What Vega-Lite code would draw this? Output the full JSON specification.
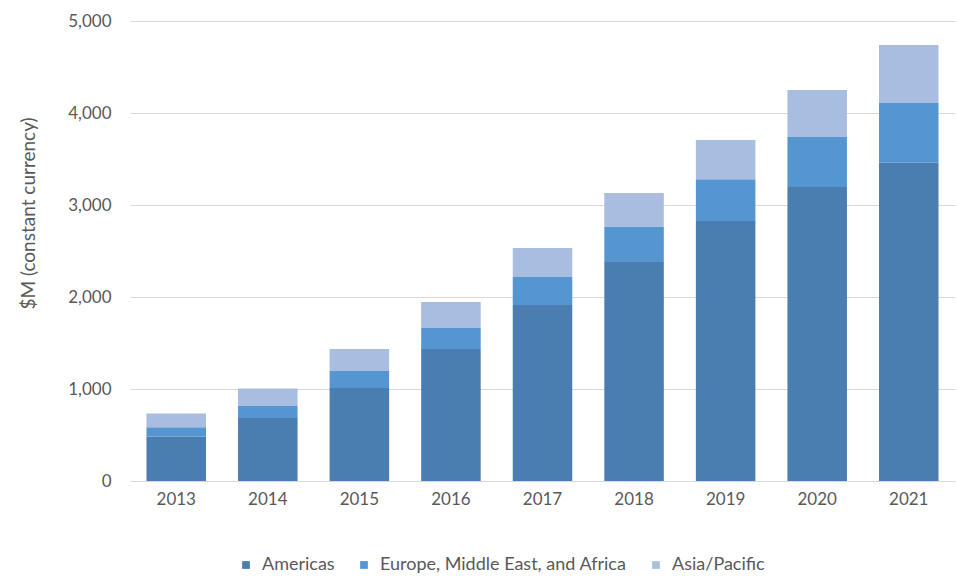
{
  "$schema": "https://vega.github.io/schema/vega-lite/v6.json",
  "autosize": "none",
  "width": 825,
  "height": 460,
  "padding": {"left": 130, "top": 21, "right": 3, "bottom": 96},
  "background": "white",
  "data": {"values": [
    {"year": "2013", "region": "Americas", "k": 1, "value": 485},
    {"year": "2013", "region": "Europe, Middle East, and Africa", "k": 2, "value": 100},
    {"year": "2013", "region": "Asia/Pacific", "k": 3, "value": 150},
    {"year": "2014", "region": "Americas", "k": 1, "value": 685},
    {"year": "2014", "region": "Europe, Middle East, and Africa", "k": 2, "value": 130},
    {"year": "2014", "region": "Asia/Pacific", "k": 3, "value": 190},
    {"year": "2015", "region": "Americas", "k": 1, "value": 1010},
    {"year": "2015", "region": "Europe, Middle East, and Africa", "k": 2, "value": 185},
    {"year": "2015", "region": "Asia/Pacific", "k": 3, "value": 240},
    {"year": "2016", "region": "Americas", "k": 1, "value": 1435},
    {"year": "2016", "region": "Europe, Middle East, and Africa", "k": 2, "value": 228},
    {"year": "2016", "region": "Asia/Pacific", "k": 3, "value": 283},
    {"year": "2017", "region": "Americas", "k": 1, "value": 1913},
    {"year": "2017", "region": "Europe, Middle East, and Africa", "k": 2, "value": 304},
    {"year": "2017", "region": "Asia/Pacific", "k": 3, "value": 316},
    {"year": "2018", "region": "Americas", "k": 1, "value": 2380},
    {"year": "2018", "region": "Europe, Middle East, and Africa", "k": 2, "value": 385},
    {"year": "2018", "region": "Asia/Pacific", "k": 3, "value": 365},
    {"year": "2019", "region": "Americas", "k": 1, "value": 2826},
    {"year": "2019", "region": "Europe, Middle East, and Africa", "k": 2, "value": 455},
    {"year": "2019", "region": "Asia/Pacific", "k": 3, "value": 425},
    {"year": "2020", "region": "Americas", "k": 1, "value": 3196},
    {"year": "2020", "region": "Europe, Middle East, and Africa", "k": 2, "value": 543},
    {"year": "2020", "region": "Asia/Pacific", "k": 3, "value": 511},
    {"year": "2021", "region": "Americas", "k": 1, "value": 3460},
    {"year": "2021", "region": "Europe, Middle East, and Africa", "k": 2, "value": 649},
    {"year": "2021", "region": "Asia/Pacific", "k": 3, "value": 630}
  ]},
  "mark": {"type": "bar"},
  "encoding": {
    "x": {
      "field": "year", "type": "ordinal", "title": null,
      "scale": {"paddingInner": 0.35, "paddingOuter": 0.18},
      "axis": {"labelAngle": 0, "ticks": false, "domain": true, "domainColor": "#d9d9d9", "labelPadding": 10, "grid": false}
    },
    "y": {
      "field": "value", "type": "quantitative", "aggregate": "sum", "stack": "zero",
      "title": "$M (constant currency)",
      "scale": {"domain": [0, 5000], "nice": false},
      "axis": {"values": [0, 1000, 2000, 3000, 4000, 5000], "format": ",d", "ticks": false, "domain": false, "labelPadding": 19, "gridColor": "#d9d9d9", "titlePadding": 29, "titleY": 192, "titleFontSize": 19}
    },
    "color": {
      "field": "region", "type": "nominal", "title": null,
      "scale": {"domain": ["Americas", "Europe, Middle East, and Africa", "Asia/Pacific"], "range": ["#4a7db0", "#5596d0", "#a8bde0"]},
      "legend": {"orient": "none", "direction": "horizontal", "legendX": 107, "legendY": 535, "symbolType": "square", "symbolSize": 60, "labelOffset": 7, "columnPadding": 20, "labelFontSize": 18, "labelLimit": 0, "labelColor": "#595959", "labelFont": "Lato", "symbolStrokeWidth": 0}
    },
    "order": {"field": "k", "type": "quantitative", "sort": "ascending"}
  },
  "config": {
    "view": {"stroke": null},
    "axis": {"labelFont": "Lato", "labelFontSize": 17, "labelColor": "#595959", "titleFont": "Lato", "titleFontSize": 16, "titleFontWeight": "normal", "titleColor": "#595959"}
  }
}
